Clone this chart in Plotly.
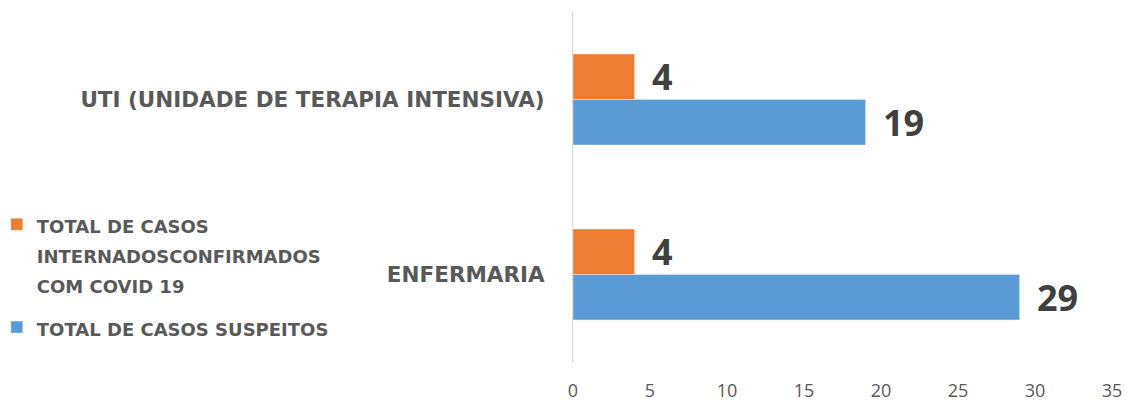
import plotly.graph_objects as go

categories = ["ENFERMARIA", "UTI (UNIDADE DE TERAPIA INTENSIVA)"]
suspeitos = [29, 19]
confirmados = [4, 4]
name_confirmados = ["TOTAL DE CASOS", "INTERNADOSCONFIRMADOS", "COM COVID 19"]
name_suspeitos = ["TOTAL DE CASOS SUSPEITOS"]
x_ticks = [0, 5, 10, 15, 20, 25, 30, 35]

ORANGE = "#ED7D31"
BLUE = "#5B9BD5"
GRAY = "#595959"
DARK = "#404040"
FONT = "DejaVu Sans"
NUM_FONT = "Open Sans"
BARGAP = 0.48


def legend_text(lines):
    return "<br>".join(f'<span style="font-size:18px">{ln}</span>' for ln in lines)


fig = go.Figure()
fig.add_trace(go.Bar(y=categories, x=suspeitos, orientation="h", name=legend_text(name_suspeitos),
                     marker=dict(color=BLUE), legendrank=2, legendgroup="s"))
fig.add_trace(go.Bar(y=categories, x=confirmados, orientation="h", name=legend_text(name_confirmados),
                     marker=dict(color=ORANGE), legendrank=1, legendgroup="c"))

# value labels
half = (1 - BARGAP) / 4
for i, c in enumerate(categories):
    for val, off in ((suspeitos[i], -half), (confirmados[i], half)):
        fig.add_annotation(x=val, y=i + off, xref="x", yref="y", text=f"<b>{val}</b>",
                           showarrow=False, xanchor="left", xshift=15,
                           font=dict(family=NUM_FONT, size=36, color=DARK))

fig.update_layout(
    width=1127, height=402,
    margin=dict(l=573, r=15, t=12, b=40, autoexpand=False),
    paper_bgcolor="white", plot_bgcolor="white",
    barmode="group", bargap=BARGAP, bargroupgap=0,
    font=dict(family=FONT, color=GRAY),
    legend=dict(x=-1.069, xanchor="left", y=0.246, yanchor="middle", valign="top",
                font=dict(family=FONT, size=23, color=GRAY, weight="bold"),
                itemwidth=30, tracegroupgap=10),
    xaxis=dict(range=[0, 35], tickvals=x_ticks, showgrid=False, zeroline=False,
               showline=False, tickfont=dict(family=NUM_FONT, size=18, color=GRAY),
               ticklabelstandoff=16),
    yaxis=dict(type="category", categoryarray=categories, showgrid=False, zeroline=False,
               showline=True, linecolor="#D9D9D9", linewidth=1, range=[-0.5, 1.5],
               tickfont=dict(size=21.5, color=GRAY, weight="bold"), ticklabelstandoff=23),
)

fig.write_html("out.html", config={"displayModeBar": False},
               post_script="document.body.style.margin='0';document.body.style.overflow='hidden';")
